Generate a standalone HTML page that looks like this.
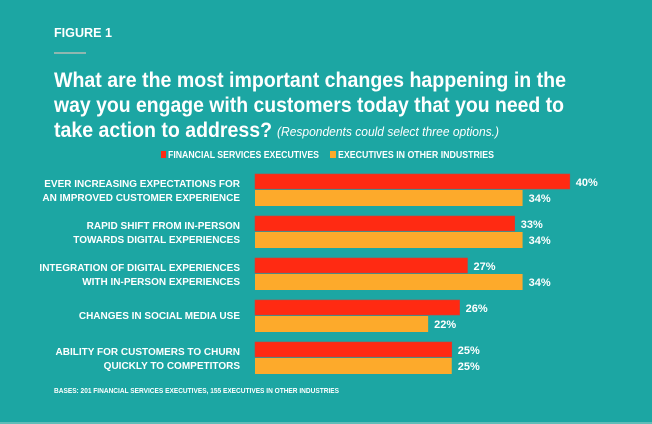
<!DOCTYPE html>
<html><head><meta charset="utf-8"><style>
html,body{margin:0;padding:0;background:#1ca6a3;}
svg{display:block;font-family:"Liberation Sans Narrow","Liberation Sans",sans-serif;}
</style></head><body>
<svg id="chart" width="652" height="424" viewBox="0 0 652 424" xmlns="http://www.w3.org/2000/svg">
<rect x="0" y="0" width="652" height="424" fill="#1ca6a3"/>
<text x="54" y="37" fill="#fff" font-size="13" font-weight="bold" textLength="58" lengthAdjust="spacingAndGlyphs">FIGURE 1</text>
<rect x="54" y="52" width="32" height="2" fill="#8fb7b0"/>
<g fill="#fff" font-size="21" font-weight="bold">
<text x="54" y="87" textLength="512" lengthAdjust="spacingAndGlyphs">What are the most important changes happening in the</text>
<text x="54" y="112" textLength="510" lengthAdjust="spacingAndGlyphs">way you engage with customers today that you need to</text>
<text x="54" y="137" textLength="218" lengthAdjust="spacingAndGlyphs">take action to address?</text>
<text x="277" y="136" font-size="13" font-weight="normal" font-style="italic" textLength="222" lengthAdjust="spacingAndGlyphs">(Respondents could select three options.)</text>
</g>
<g font-size="10" font-weight="bold" fill="#fff">
<rect x="161" y="151" width="5" height="7" fill="#ff2a12"/>
<text x="168" y="158" textLength="151" lengthAdjust="spacingAndGlyphs">FINANCIAL SERVICES EXECUTIVES</text>
<rect x="330" y="151" width="6" height="7" fill="#fdaa2b"/>
<text x="338" y="158" textLength="156" lengthAdjust="spacingAndGlyphs">EXECUTIVES IN OTHER INDUSTRIES</text>
</g>
<g id="bars"></g>
<text x="54" y="393" fill="#fff" font-size="7" font-weight="bold" textLength="285" lengthAdjust="spacingAndGlyphs">BASES: 201 FINANCIAL SERVICES EXECUTIVES, 155 EXECUTIVES IN OTHER INDUSTRIES</text>
<rect x="0" y="422" width="652" height="2" fill="#5fbdb8"/>
</svg>
<script>
const categories = [
  ["EVER INCREASING EXPECTATIONS FOR","AN IMPROVED CUSTOMER EXPERIENCE"],
  ["RAPID SHIFT FROM IN-PERSON","TOWARDS DIGITAL EXPERIENCES"],
  ["INTEGRATION OF DIGITAL EXPERIENCES","WITH IN-PERSON EXPERIENCES"],
  ["CHANGES IN SOCIAL MEDIA USE"],
  ["ABILITY FOR CUSTOMERS TO CHURN","QUICKLY TO COMPETITORS"]
];
const financialValues = [40, 33, 27, 26, 25];
const otherValues = [34, 34, 34, 22, 25];

const NS = "http://www.w3.org/2000/svg";
const g = document.getElementById("bars");
const x0 = 255, pxPer = 7.87, top0 = 174, pitch = 42, bh = 16;
function xScale(v){ return v * pxPer; }
function yBand(i){ return top0 + i * pitch; }
function mk(tag, attrs){ const e = document.createElementNS(NS, tag); for (const k in attrs) e.setAttribute(k, attrs[k]); return e; }

categories.forEach((lines, i) => {
  const y = yBand(i);
  const series = [[financialValues[i], "#ff2a12", "financial"], [otherValues[i], "#fdaa2b", "other"]];
  series.forEach((s, j) => {
    const r = mk("rect", {x: x0, y: y + j * bh, width: xScale(s[0]), height: bh - (j === 0 ? 1 : 0), fill: s[1], stroke: j === 0 ? "#c9433a" : "none", "stroke-width": 0.6});
    
    
    g.appendChild(r);
    const t = mk("text", {x: x0 + xScale(s[0]) + 6, y: y + j * bh + 12, fill: "#fff", "font-size": 11, "font-weight": "bold"});
    t.textContent = s[0] + "%";
    
    
    g.appendChild(t);
  });
  const n = lines.length;
  lines.forEach((ln, k) => {
    const ty = n === 1 ? y + 19 : y + 13 + k * 14;
    const t = mk("text", {x: 240, y: ty, fill: "#fff", "font-size": 10, "font-weight": "bold", "text-anchor": "end"});
    t.textContent = ln;
    
    
    g.appendChild(t);
  });
});
</script>
</body></html>
